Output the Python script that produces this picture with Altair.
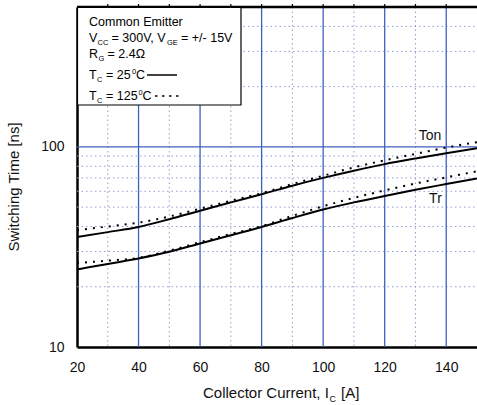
import altair as alt
import pandas as pd

# ---- data ----
ic = [20, 30, 40, 50, 60, 70, 80, 90, 100, 110, 120, 130, 140, 150]
ton_25 = [35.4, 37.5, 39.8, 43.5, 48.0, 52.8, 58.0, 64.0, 70.0, 76.0, 82.0, 87.5, 93.0, 98.5]
ton_125 = [38.3, 40.0, 41.8, 44.9, 49.1, 53.8, 58.7, 65.2, 71.7, 79.0, 85.7, 92.2, 99.2, 105.6]
tr_25 = [24.4, 26.0, 27.7, 29.9, 32.9, 36.2, 39.8, 44.1, 48.6, 52.8, 56.8, 61.0, 65.2, 69.6]
tr_125 = [26.3, 27.0, 27.9, 30.3, 33.4, 36.7, 40.2, 45.2, 50.5, 55.6, 60.6, 65.6, 70.4, 75.5]

x_ticks = [20, 40, 60, 80, 100, 120, 140]
y_ticks = [10, 100]
x_major_grid = [40, 60, 80, 100, 120, 140]
x_minor_grid = [30, 50, 70, 90, 110, 130]
y_major_grid = [100]
y_minor_grid = [20, 30, 40, 50, 60, 70, 80, 90, 200, 300, 400]
top_ticks = [30, 40, 50, 60, 70, 80, 90, 100, 110, 120, 130, 140]

curve_labels = ["Ton", "Tr"]
curve_label_x = [134.7, 136.5]
curve_label_y = [113.5, 54.8]

FONT = "Liberation Sans"
W, H = 400, 340
XD = [20, 150]
YD = [10, 500]

xs = alt.Scale(domain=XD, nice=False, zero=False)
ys = alt.Scale(type="log", domain=YD, nice=False)

rows = []
for name, arr in [("Ton25", ton_25), ("Ton125", ton_125), ("Tr25", tr_25), ("Tr125", tr_125)]:
    for a, v in zip(ic, arr):
        rows.append({"ic": a, "t": v, "s": name})
df = pd.DataFrame(rows)

one = pd.DataFrame({"a": [0]})

def vgrid(vals, color, width, dash=None):
    kw = dict(color=color, strokeWidth=width)
    if dash:
        kw["strokeDash"] = dash
    return alt.Chart(pd.DataFrame({"x": vals})).mark_rule(**kw).encode(
        x=alt.X("x:Q", scale=xs), y=alt.value(0), y2=alt.value(H))

def hgrid(vals, color, width, dash=None):
    kw = dict(color=color, strokeWidth=width)
    if dash:
        kw["strokeDash"] = dash
    return alt.Chart(pd.DataFrame({"y": vals})).mark_rule(**kw).encode(
        y=alt.Y("y:Q", scale=ys), x=alt.value(0), x2=alt.value(W))

layers = [
    hgrid(y_minor_grid, "#929dd4", 1, [1.5, 3]),
    vgrid(x_minor_grid, "#929dd4", 1, [1.5, 3]),
    hgrid(y_major_grid, "#4060bf", 1.3),
    vgrid(x_major_grid, "#4060bf", 1.3),
]

def curve(name, dash=None):
    kw = dict(color="black", strokeWidth=2, interpolate="monotone", clip=True)
    if dash:
        kw["strokeDash"] = dash
    return alt.Chart(df[df.s == name]).mark_line(**kw).encode(
        x=alt.X("ic:Q", scale=xs,
                axis=alt.Axis(values=x_ticks, title=None, grid=False, ticks=False,
                              labelPadding=13, labelFontSize=14, labelFlush=False,
                              domainColor="black", domainWidth=2.5, labelColor="#111")),
        y=alt.Y("t:Q", scale=ys,
                axis=alt.Axis(values=y_ticks, title=None, grid=False, ticks=False,
                              labelPadding=13, labelFontSize=14, labelFlush=False,
                              domainColor="black", domainWidth=2.5, labelColor="#111",
                              format="d")),
    )

layers += [curve("Ton25"), curve("Tr25"), curve("Ton125", [2, 6]), curve("Tr125", [2, 6])]

lab_df = pd.DataFrame({"x": curve_label_x, "y": curve_label_y, "t": curve_labels})
layers.append(alt.Chart(lab_df).mark_text(font=FONT, fontSize=14, color="#111",
                                          baseline="middle", align="center").encode(
    x=alt.X("x:Q", scale=xs), y=alt.Y("y:Q", scale=ys), text="t:N"))

# top border with small ticks
layers.append(alt.Chart(one).mark_rule(color="black", strokeWidth=2.5).encode(
    x=alt.value(0), x2=alt.value(W), y=alt.value(0)))
layers.append(alt.Chart(pd.DataFrame({"x": top_ticks})).mark_rule(color="black", strokeWidth=1.2).encode(
    x=alt.X("x:Q", scale=xs), y=alt.value(-3), y2=alt.value(1)))

# legend box
layers.append(alt.Chart(one).mark_rect(fill="white", stroke="black", strokeWidth=1.2).encode(
    x=alt.value(0.5), x2=alt.value(164), y=alt.value(0.5), y2=alt.value(98)))

# legend text segments: (text, x, baseline y, size) in page coordinates
OX, OY = 77, 7
legend_segments = [
    ("Common Emitter", 89, 26, 12.5),
    ("V", 89, 42, 12.5), ("CC", 97.5, 45, 7.5), ("= 300V, V", 111.5, 42, 12.5),
    ("GE", 167, 45, 7.5), ("= +/- 15V", 181, 42, 12.5),
    ("R", 89, 58, 12.5), ("G", 98.5, 61, 7.5), ("= 2.4Ω", 107.5, 58, 12.5),
    ("T", 89, 79, 12.5), ("C", 97, 82, 7.5), ("= 25", 106, 79, 12.5),
    ("0", 132, 74, 7.5), ("C", 136, 79, 12.5),
    ("T", 89, 100, 12.5), ("C", 97, 103, 7.5), ("= 125", 106, 100, 12.5),
    ("0", 138.5, 95, 7.5), ("C", 142.5, 100, 12.5),
]
for txt, x, y, s in legend_segments:
    layers.append(alt.Chart(one).mark_text(text=txt, font=FONT, fontSize=s, color="black",
                                           align="left", baseline="alphabetic").encode(
        x=alt.value(x - OX), y=alt.value(y - OY)))

layers.append(alt.Chart(one).mark_rule(color="black", strokeWidth=1.5).encode(
    x=alt.value(147 - OX), x2=alt.value(177 - OX), y=alt.value(75 - OY)))
layers.append(alt.Chart(one).mark_rule(color="black", strokeWidth=1.5, strokeDash=[2.5, 4.5]).encode(
    x=alt.value(155 - OX), x2=alt.value(182 - OX), y=alt.value(96 - OY)))

# axis titles
x_title = [("Collector Current, I", 203, 398, 15), ("C", 329.5, 402, 9), ("[A]", 341, 398, 15)]
for txt, x, y, s in x_title:
    layers.append(alt.Chart(one).mark_text(text=txt, font=FONT, fontSize=s, color="#111",
                                           align="left", baseline="alphabetic").encode(
        x=alt.value(x - OX), y=alt.value(y - OY)))
layers.append(alt.Chart(one).mark_text(text="Switching Time [ns]", font=FONT, fontSize=15,
                                       color="#111", angle=270, align="center",
                                       baseline="middle").encode(
    x=alt.value(14 - OX), y=alt.value(187 - OY)))

chart = alt.layer(*layers).properties(
    width=W, height=H,
    autosize=alt.AutoSizeParams(type="none"),
    padding={"left": 77, "top": 7, "right": 0, "bottom": 58},
    background="white",
).configure_view(stroke=None).configure(font=FONT)

chart.save("out.html", embed_options={"renderer": "svg", "actions": False})
